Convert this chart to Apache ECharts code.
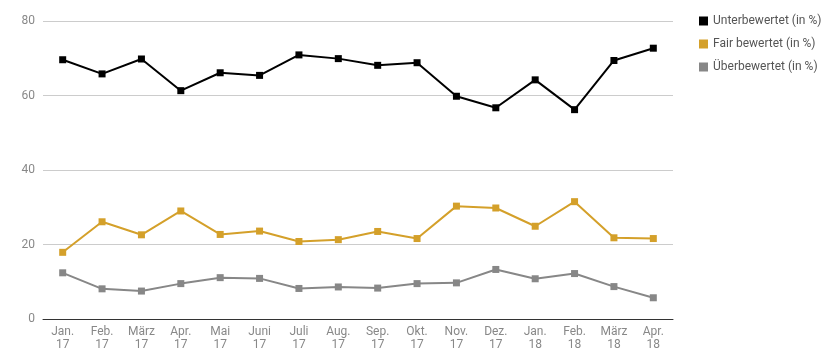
<!DOCTYPE html>
<html><head><meta charset="utf-8">
<script src="https://cdn.jsdelivr.net/npm/echarts@6/dist/echarts.min.js"></script>
<style>html,body{margin:0;padding:0;background:#fff}#c{width:839px;height:363px}</style>
</head><body><div id="c"></div>
<script>
const categories = ["Jan.\n17","Feb.\n17","März\n17","Apr.\n17","Mai\n17","Juni\n17","Juli\n17","Aug.\n17","Sep.\n17","Okt.\n17","Nov.\n17","Dez.\n17","Jan.\n18","Feb.\n18","März\n18","Apr.\n18"];
const unterbewertet = [69.6,65.8,69.8,61.3,66.1,65.4,70.9,69.9,68.1,68.8,59.8,56.7,64.2,56.2,69.4,72.7];
const fair = [17.9,26.1,22.6,29.0,22.7,23.6,20.8,21.3,23.5,21.6,30.3,29.8,24.9,31.5,21.8,21.6];
const ueberbewertet = [12.4,8.1,7.5,9.5,11.1,10.9,8.2,8.6,8.3,9.5,9.7,13.3,10.8,12.2,8.7,5.7];
const seriesNames = ["Unterbewertet (in %)","Fair bewertet (in %)","Überbewertet (in %)"];
const colors = ["#000000","#d4a02a","#878787"];

const chart = echarts.init(document.getElementById('c'));
const mk = (name, data, color) => ({
  name, type:'line', data, symbol:'rect', symbolSize:7,
  lineStyle:{width:2,color}, itemStyle:{color}, emphasis:{disabled:true}
});
chart.setOption({
  animation:false,
  textStyle:{fontFamily:'Roboto'},
  color: colors,
  legend:{
    orient:'vertical', left:694, top:10, itemWidth:9, itemHeight:9, itemGap:11,
    icon:'rect',
    textStyle:{fontSize:12,color:'#555',fontFamily:'Roboto'},
    data: seriesNames
  },
  grid:{left:43,right:166,top:21,bottom:44,containLabel:false},
  xAxis:{
    type:'category', data:categories, boundaryGap:true,
    axisLine:{lineStyle:{color:'#333',width:1}},
    axisTick:{show:false},
    axisLabel:{color:'#888',fontSize:12,lineHeight:13,margin:6,interval:0}
  },
  yAxis:{
    type:'value', min:0, max:80, interval:20,
    axisLine:{show:false}, axisTick:{show:false},
    splitLine:{lineStyle:{color:'#cccccc',width:1}},
    axisLabel:{color:'#888',fontSize:12,margin:8}
  },
  series:[
    mk(seriesNames[0], unterbewertet, colors[0]),
    mk(seriesNames[1], fair, colors[1]),
    mk(seriesNames[2], ueberbewertet, colors[2])
  ]
});
</script></body></html>
